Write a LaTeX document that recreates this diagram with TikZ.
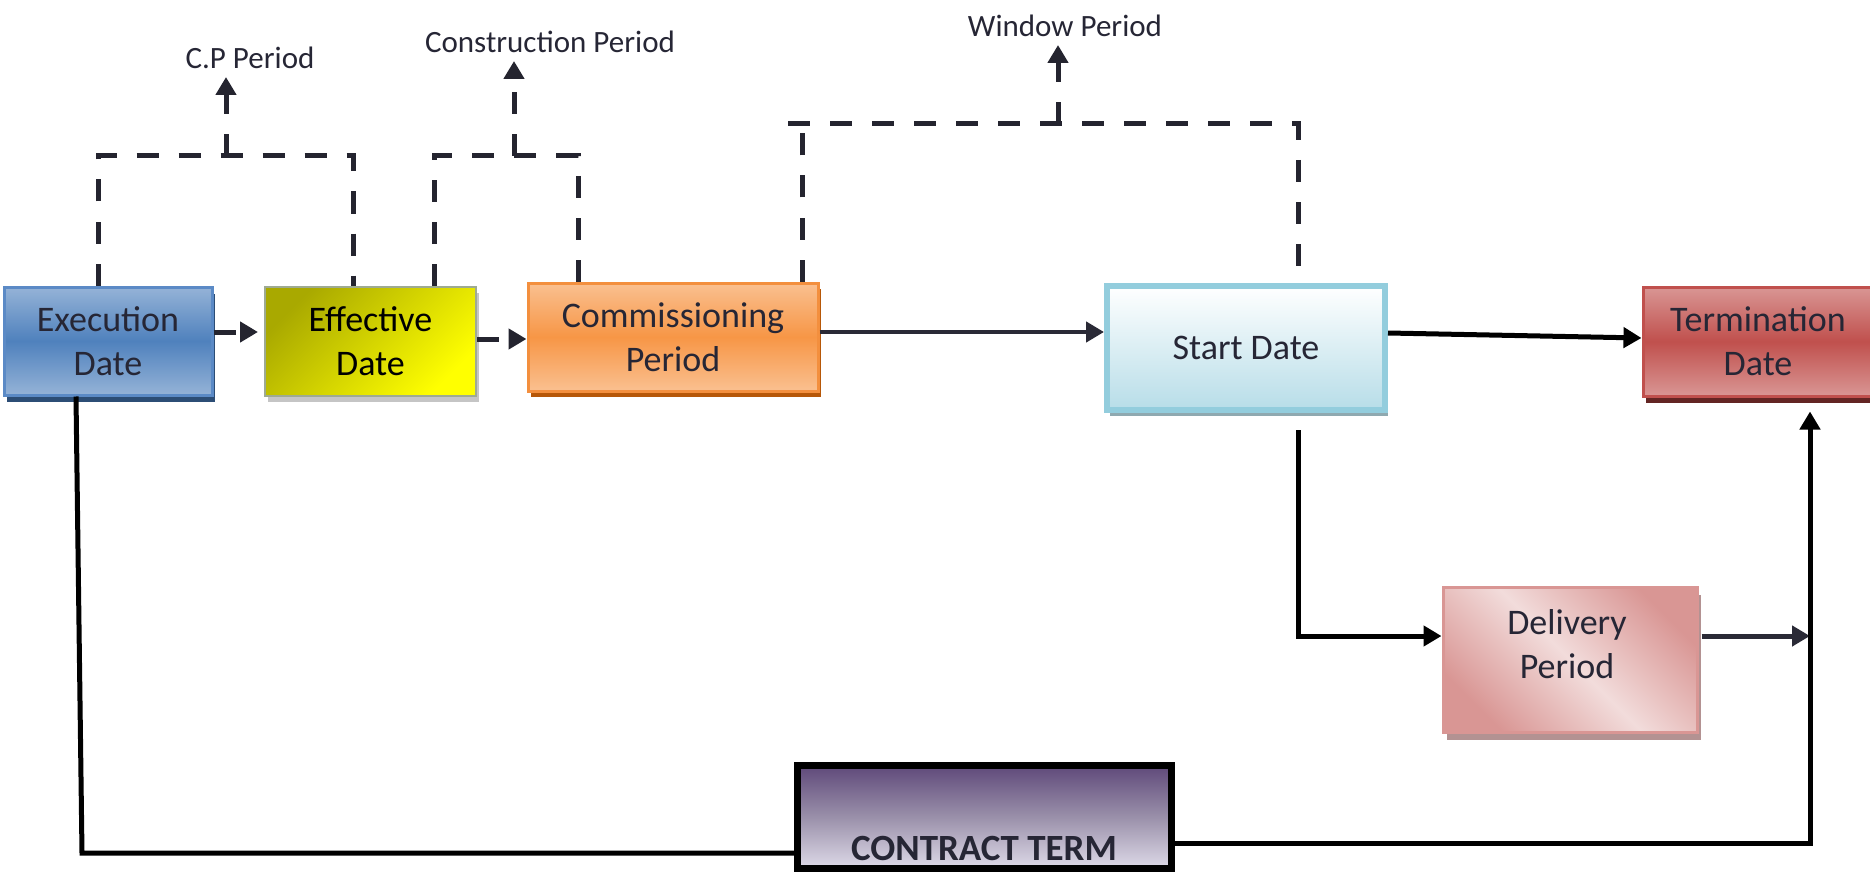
\documentclass[tikz,border=0pt]{standalone}
\usepackage{fontspec}
\setmainfont{Carlito}
\usetikzlibrary{arrows.meta,shadows}
\definecolor{txt}{HTML}{262635}
\definecolor{dline}{HTML}{24242F}
\definecolor{cline}{HTML}{2A2A36}
\definecolor{exeLight}{HTML}{95B3D7}
\definecolor{exeMid}{HTML}{4F81BD}
\definecolor{exeBorder}{HTML}{5B8AC6}
\definecolor{exeSh}{HTML}{2C4D75}
\definecolor{effA}{HTML}{A9A900}
\definecolor{effB}{HTML}{FFFF00}
\definecolor{effBorder}{HTML}{9EAA92}
\definecolor{comLight}{HTML}{FAC090}
\definecolor{comMid}{HTML}{F79646}
\definecolor{comBorder}{HTML}{F38F3E}
\definecolor{comSh}{HTML}{B65708}
\definecolor{stBot}{HTML}{B7DDE8}
\definecolor{stBorder}{HTML}{93CDDD}
\definecolor{stSh}{HTML}{8FA9B0}
\definecolor{tmLight}{HTML}{D99694}
\definecolor{tmMid}{HTML}{C0504D}
\definecolor{tmSh}{HTML}{632523}
\definecolor{dlDark}{HTML}{D99694}
\definecolor{dlLight}{HTML}{F2DCDB}
\definecolor{dlSh}{HTML}{B39292}
\definecolor{ctTop}{HTML}{5F497A}
\definecolor{ctMid}{HTML}{9A90AA}
\definecolor{ctBot}{HTML}{DEDAE8}
\begin{document}
\begin{tikzpicture}[x=0.5pt,y=-0.5pt,
  box/.style={rectangle, inner sep=0pt, align=center, font=\fontsize{18}{22}\selectfont, text=txt},
  dsh/.style={draw=dline, line width=2.5pt, dash pattern=on 11pt off 10pt},
  tip/.style={-{Triangle[length=9pt,width=10pt]}},
  sconn/.style={draw=black, line width=2.5pt},
  cconn/.style={draw=cline, line width=2.2pt},
  lbl/.style={font=\fontsize{15.5}{18}\selectfont, text=txt}]
\useasboundingbox (0,0) rectangle (1870,872);

% helper coordinates
\coordinate (y332) at (0,332);
\coordinate (y339) at (0,339);
\coordinate (y333) at (0,333);
\coordinate (y338) at (0,338);
\coordinate (y636) at (0,636);
\coordinate (y843) at (0,843);
\coordinate (y853) at (0,853);
\coordinate (x76) at (76,0);
\coordinate (x1298) at (1298,0);
\coordinate (x1810) at (1810,0);
\coordinate (vline) at (1810,636);
\coordinate (blc) at (82,853);
\coordinate (cpL) at (98,156);
\coordinate (cpR) at (353,156);
\coordinate (cpM) at (226,156);
\coordinate (cpT) at (226,77);
\coordinate (csL) at (434,156);
\coordinate (csR) at (578,156);
\coordinate (csM) at (514,156);
\coordinate (csT) at (514,61);
\coordinate (wpL0) at (788,124);
\coordinate (wpL) at (802,124);
\coordinate (wpR) at (1298,124);
\coordinate (wpM) at (1058,124);
\coordinate (wpT) at (1058,45);

% boxes
\node[box, minimum width=104pt, minimum height=54pt, draw=exeBorder, line width=1.5pt,
  top color=exeLight, bottom color=exeLight, middle color=exeMid,
  drop shadow={shadow xshift=1.5pt, shadow yshift=-3.5pt, fill=exeSh, opacity=1}]
  (exe) at (108,341) {Execution\\Date};
\node[box, text=black, minimum width=105.5pt, minimum height=54.5pt, draw=effBorder, line width=1pt,
  top color=effA, bottom color=effB, shading angle=45,
  drop shadow={shadow xshift=1.5pt, shadow yshift=-3pt, fill=black!45, opacity=0.5}]
  (eff) at (370.5,341.5) {Effective\\Date};
\node[box, minimum width=145pt, minimum height=54pt, draw=comBorder, line width=1.5pt,
  top color=comLight, bottom color=comLight, middle color=comMid,
  drop shadow={shadow xshift=1.5pt, shadow yshift=-3pt, fill=comSh, opacity=1}]
  (com) at (673,337) {Commissioning\\Period};
\node[box, minimum width=139pt, minimum height=62pt, draw=stBorder, line width=3pt,
  top color=white, bottom color=stBot,
  drop shadow={shadow xshift=1.5pt, shadow yshift=-3pt, fill=stSh, opacity=1}]
  (start) at (1246,348) {Start Date};
\node[box, minimum width=115pt, minimum height=54.5pt, draw=tmMid, line width=1.5pt,
  top color=tmLight, bottom color=tmLight, middle color=tmMid,
  drop shadow={shadow xshift=1.5pt, shadow yshift=-3.5pt, fill=tmSh, opacity=1}]
  (term) at (1758,341.5) {Termination\\Date};
\node[box, minimum width=127pt, minimum height=72.5pt, draw=dlDark, line width=1.5pt,
  top color=dlDark, bottom color=dlDark, middle color=dlLight, shading angle=-45,
  drop shadow={shadow xshift=2pt, shadow yshift=-4pt, fill=dlSh, opacity=1}]
  (del) at (1570,659.5) {};
\node[box] (deltxt) at (1567,644.5) {Delivery\\Period};
\node[box, minimum width=187pt, minimum height=51.5pt, draw=black, line width=3.5pt,
  top color=ctTop, bottom color=ctBot, middle color=ctMid]
  (ct) at (984.5,817) {};
\node[box, font=\bfseries\fontsize{18.5}{21}\selectfont, text=txt] (cttxt) at (984,848) {CONTRACT TERM};

% labels
\node[lbl] (cpl) at (250,58) {C.P Period};
\node[lbl] (csl) at (550,42) {Construction Period};
\node[lbl] (wpl) at (1065,26) {Window Period};

% dashed brackets
\draw[dsh] (exe.north -| cpL) -- (cpL) -- (cpR) -- (eff.north -| cpR);
\draw[dsh, tip] (cpM) -- (cpT);
\draw[dsh] (eff.north -| csL) -- (csL) -- (csR) -- (com.north -| csR);
\draw[dsh, tip] (csM) -- (csT);
\draw[dsh] (com.north -| wpL) -- (wpL);
\draw[dsh] (wpL0) -- (wpR) -- (start.north -| wpR);
\draw[dsh, tip] (wpM) -- (wpT);

% connectors
\draw[dsh, tip, shorten >=3pt] (exe.east |- y332) -- (eff.west |- y332);
\draw[dsh, tip] (eff.east |- y339) -- (com.west |- y339);
\draw[cconn, tip] (com.east |- y332) -- (start.west |- y332);
\draw[sconn, tip] (start.east |- y333) -- (term.west |- y338);
\draw[sconn, tip, shorten <=8.5pt] (start.south -| x1298) |- (del.west |- y636);
\draw[cconn, tip, line width=2.5pt, shorten <=1.5pt] (del.east |- y636) -- (vline);
\draw[sconn, tip, shorten >=7pt] (ct.east |- y843) -| (term.south -| x1810);
\draw[sconn] (exe.south -| x76) -- (blc) -- (ct.west |- y853);
\end{tikzpicture}
\end{document}
